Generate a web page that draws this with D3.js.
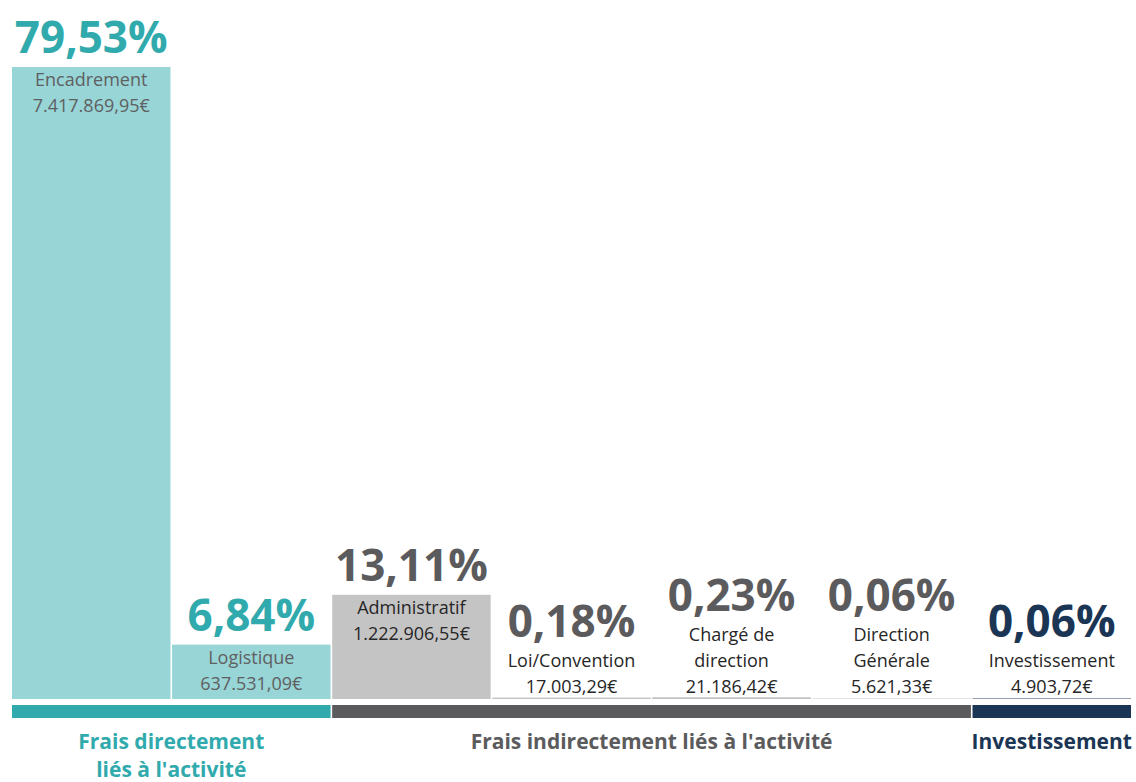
<!DOCTYPE html>
<html>
<head>
<meta charset="utf-8">
<script src="https://cdn.jsdelivr.net/npm/d3@7"></script>
<style>
  body { margin: 0; background: #fff; }
  text { font-family: "Open Sans", "DejaVu Sans", sans-serif; }
</style>
</head>
<body>
<svg id="chart" width="1136" height="782"></svg>
<script>
// Data
const categories = ["Encadrement", "Logistique", "Administratif", "Loi/Convention", "Chargé de direction", "Direction Générale", "Investissement"];
const labelLines = [["Encadrement"], ["Logistique"], ["Administratif"], ["Loi/Convention"], ["Chargé de", "direction"], ["Direction", "Générale"], ["Investissement"]];
const percents = [79.53, 6.84, 13.11, 0.18, 0.23, 0.06, 0.06];
const percentLabels = ["79,53%", "6,84%", "13,11%", "0,18%", "0,23%", "0,06%", "0,06%"];
const amounts = ["7.417.869,95€", "637.531,09€", "1.222.906,55€", "17.003,29€", "21.186,42€", "5.621,33€", "4.903,72€"];
const groupOf = ["direct", "direct", "indirect", "indirect", "indirect", "indirect", "invest"];
const groups = ["direct", "indirect", "invest"];
const groupNames = [["Frais directement", "liés à l'activité"], ["Frais indirectement liés à l'activité"], ["Investissement"]];

// Colours
const barColor = { direct: "#98d5d6", indirect: "#c5c4c5", invest: "#1b3554" };
const mainColor = { direct: "#31aaad", indirect: "#5b5b5d", invest: "#1b3554" };
const subColor = { direct: "#5f6062", indirect: "#262626", invest: "#262626" };

const svg = d3.select("#chart");
const baseY = 699;

const x = d3.scaleBand()
    .domain(categories)
    .range([12, 1131])
    .paddingInner(0.01);

const y = d3.scaleLinear()
    .domain([0, 79.53])
    .range([baseY, 67]);

const rows = categories.map((c, i) => ({
    cat: c, lines: labelLines[i], pct: percents[i], pctLabel: percentLabels[i],
    amount: amounts[i], group: groupOf[i]
}));

// Bars
svg.append("g").selectAll("rect")
    .data(rows)
    .join("rect")
    .attr("x", d => x(d.cat))
    .attr("y", d => y(d.pct))
    .attr("width", x.bandwidth())
    .attr("height", d => baseY - y(d.pct))
    .attr("fill", d => barColor[d.group]);

// Labels
const lineH = 26;
rows.forEach(d => {
    const cx = x(d.cat) + x.bandwidth() / 2;
    const top = y(d.pct);
    const lines = d.lines.concat([d.amount]);
    const inside = baseY - top > 40;
    let baselines;
    if (inside) {
        baselines = lines.map((l, i) => top + 19 + lineH * i);
    } else {
        baselines = lines.map((l, i) => 693 - lineH * (lines.length - 1 - i));
    }
    const pctY = inside ? top - 14 : baselines[0] - 30;

    svg.append("text")
        .attr("x", cx).attr("y", pctY)
        .attr("text-anchor", "middle")
        .attr("font-size", 44).attr("font-weight", 700)
        .attr("fill", mainColor[d.group])
        .text(d.pctLabel);

    svg.append("g").selectAll("text")
        .data(lines)
        .join("text")
        .attr("x", cx)
        .attr("y", (l, i) => baselines[i])
        .attr("text-anchor", "middle")
        .attr("font-size", 18)
        .attr("fill", subColor[d.group])
        .text(l => l);
});

// Group bands
groups.forEach((g, gi) => {
    const cats = categories.filter((c, i) => groupOf[i] === g);
    const x0 = x(cats[0]);
    const x1 = x(cats[cats.length - 1]) + x.bandwidth();
    svg.append("rect")
        .attr("x", x0).attr("y", 705)
        .attr("width", x1 - x0).attr("height", 13)
        .attr("fill", mainColor[g]);
    svg.append("g").selectAll("text")
        .data(groupNames[gi])
        .join("text")
        .attr("x", (x0 + x1) / 2)
        .attr("y", (t, i) => 749 + 28 * i)
        .attr("text-anchor", "middle")
        .attr("font-size", 21).attr("font-weight", 700)
        .attr("fill", mainColor[g])
        .text(t => t);
});
</script>
</body>
</html>
